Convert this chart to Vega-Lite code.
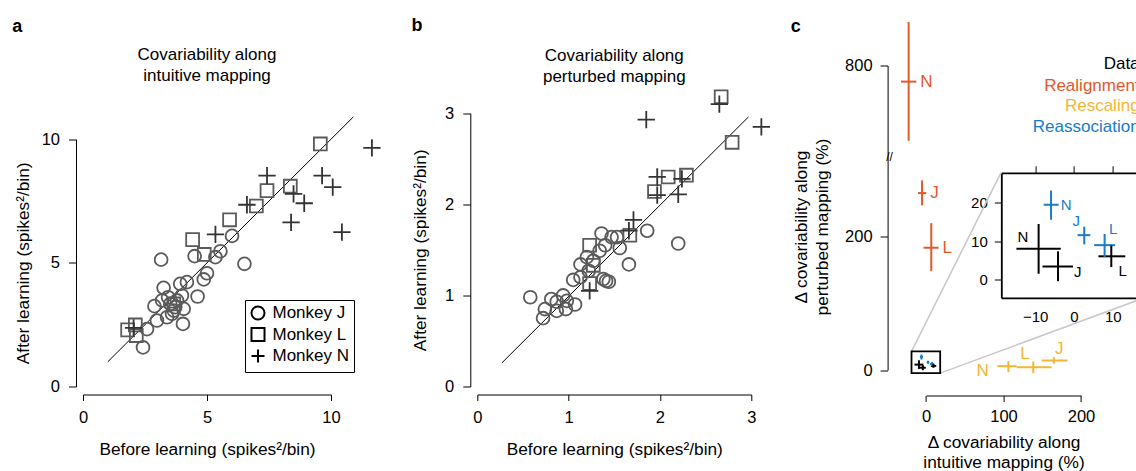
{
  "$schema": "https://vega.github.io/schema/vega-lite/v6.json",
  "padding": {"left": 12, "top": 16.5, "right": 0, "bottom": 0},
  "bounds": "flush",
  "spacing": 146.3,
  "config": {
    "view": {"stroke": null},
    "font": "Liberation Sans",
    "axis": {"domainColor": "black", "tickColor": "black", "labelColor": "black", "titleColor": "black", "labelFont": "Liberation Sans", "titleFont": "Liberation Sans", "labelFontSize": 16.5, "titleFontSize": 17.3, "titleFontWeight": "normal", "grid": false, "domainWidth": 1, "tickWidth": 1, "labelFlush": false, "labelOverlap": false},
    "legend": {"labelFont": "Liberation Sans"}
  },
  "resolve": {"scale": {"color": "independent", "shape": "independent", "size": "independent"}, "legend": {"color": "independent", "shape": "independent", "size": "independent"}},
  "datasets": {
    "intuitive": [
      {"monkey": "Monkey J", "before": 3.15, "after": 5.13},
      {"monkey": "Monkey J", "before": 2.42, "after": 1.58},
      {"monkey": "Monkey J", "before": 2.58, "after": 2.32},
      {"monkey": "Monkey J", "before": 2.98, "after": 2.67},
      {"monkey": "Monkey J", "before": 2.88, "after": 3.25},
      {"monkey": "Monkey J", "before": 3.25, "after": 3.99},
      {"monkey": "Monkey J", "before": 3.19, "after": 3.48},
      {"monkey": "Monkey J", "before": 3.39, "after": 2.80},
      {"monkey": "Monkey J", "before": 3.52, "after": 3.34},
      {"monkey": "Monkey J", "before": 3.66, "after": 3.07},
      {"monkey": "Monkey J", "before": 3.79, "after": 3.48},
      {"monkey": "Monkey J", "before": 3.92, "after": 4.15},
      {"monkey": "Monkey J", "before": 4.06, "after": 3.14},
      {"monkey": "Monkey J", "before": 4.03, "after": 2.53},
      {"monkey": "Monkey J", "before": 3.99, "after": 3.68},
      {"monkey": "Monkey J", "before": 4.19, "after": 4.22},
      {"monkey": "Monkey J", "before": 4.62, "after": 3.64},
      {"monkey": "Monkey J", "before": 4.50, "after": 5.27},
      {"monkey": "Monkey J", "before": 4.87, "after": 4.33},
      {"monkey": "Monkey J", "before": 5.00, "after": 4.58},
      {"monkey": "Monkey J", "before": 5.34, "after": 5.23},
      {"monkey": "Monkey J", "before": 5.54, "after": 5.47},
      {"monkey": "Monkey J", "before": 6.01, "after": 6.09},
      {"monkey": "Monkey J", "before": 6.51, "after": 4.96},
      {"monkey": "Monkey J", "before": 3.72, "after": 3.21},
      {"monkey": "Monkey J", "before": 3.59, "after": 2.94},
      {"monkey": "Monkey J", "before": 3.43, "after": 3.61},
      {"monkey": "Monkey L", "before": 1.80, "after": 2.29},
      {"monkey": "Monkey L", "before": 2.11, "after": 2.49},
      {"monkey": "Monkey L", "before": 2.15, "after": 2.06},
      {"monkey": "Monkey L", "before": 4.42, "after": 5.94},
      {"monkey": "Monkey L", "before": 4.89, "after": 5.34},
      {"monkey": "Monkey L", "before": 5.91, "after": 6.74},
      {"monkey": "Monkey L", "before": 6.99, "after": 7.30},
      {"monkey": "Monkey L", "before": 7.42, "after": 7.92},
      {"monkey": "Monkey L", "before": 8.36, "after": 8.10},
      {"monkey": "Monkey L", "before": 9.57, "after": 9.81},
      {"monkey": "Monkey L", "before": 3.66, "after": 3.34},
      {"monkey": "Monkey N", "before": 11.65, "after": 9.65},
      {"monkey": "Monkey N", "before": 7.42, "after": 8.53},
      {"monkey": "Monkey N", "before": 6.61, "after": 7.35},
      {"monkey": "Monkey N", "before": 5.34, "after": 6.15},
      {"monkey": "Monkey N", "before": 8.39, "after": 6.64},
      {"monkey": "Monkey N", "before": 8.49, "after": 7.79},
      {"monkey": "Monkey N", "before": 8.92, "after": 7.41},
      {"monkey": "Monkey N", "before": 9.64, "after": 8.53},
      {"monkey": "Monkey N", "before": 10.07, "after": 8.06},
      {"monkey": "Monkey N", "before": 10.44, "after": 6.24},
      {"monkey": "Monkey N", "before": 2.04, "after": 2.37}
    ],
    "perturbed": [
      {"monkey": "Monkey J", "before": 0.58, "after": 0.98},
      {"monkey": "Monkey J", "before": 0.72, "after": 0.75},
      {"monkey": "Monkey J", "before": 0.74, "after": 0.85},
      {"monkey": "Monkey J", "before": 0.81, "after": 0.96},
      {"monkey": "Monkey J", "before": 0.87, "after": 0.93},
      {"monkey": "Monkey J", "before": 0.87, "after": 0.83},
      {"monkey": "Monkey J", "before": 0.94, "after": 1.00},
      {"monkey": "Monkey J", "before": 0.97, "after": 0.85},
      {"monkey": "Monkey J", "before": 1.07, "after": 0.90},
      {"monkey": "Monkey J", "before": 0.98, "after": 0.94},
      {"monkey": "Monkey J", "before": 1.05, "after": 1.17},
      {"monkey": "Monkey J", "before": 1.13, "after": 1.20},
      {"monkey": "Monkey J", "before": 1.13, "after": 1.34},
      {"monkey": "Monkey J", "before": 1.20, "after": 1.42},
      {"monkey": "Monkey J", "before": 1.22, "after": 1.27},
      {"monkey": "Monkey J", "before": 1.27, "after": 1.38},
      {"monkey": "Monkey J", "before": 1.34, "after": 1.49},
      {"monkey": "Monkey J", "before": 1.36, "after": 1.68},
      {"monkey": "Monkey J", "before": 1.40, "after": 1.55},
      {"monkey": "Monkey J", "before": 1.38, "after": 1.18},
      {"monkey": "Monkey J", "before": 1.44, "after": 1.15},
      {"monkey": "Monkey J", "before": 1.47, "after": 1.64},
      {"monkey": "Monkey J", "before": 1.53, "after": 1.64},
      {"monkey": "Monkey J", "before": 1.56, "after": 1.52},
      {"monkey": "Monkey J", "before": 1.66, "after": 1.34},
      {"monkey": "Monkey J", "before": 1.86, "after": 1.71},
      {"monkey": "Monkey J", "before": 2.20, "after": 1.57},
      {"monkey": "Monkey J", "before": 1.41, "after": 1.16},
      {"monkey": "Monkey L", "before": 1.23, "after": 1.55},
      {"monkey": "Monkey L", "before": 1.23, "after": 1.13},
      {"monkey": "Monkey L", "before": 1.27, "after": 1.33},
      {"monkey": "Monkey L", "before": 1.67, "after": 1.66},
      {"monkey": "Monkey L", "before": 1.94, "after": 2.14},
      {"monkey": "Monkey L", "before": 2.09, "after": 2.30},
      {"monkey": "Monkey L", "before": 2.29, "after": 2.32},
      {"monkey": "Monkey L", "before": 2.79, "after": 2.68},
      {"monkey": "Monkey L", "before": 2.67, "after": 3.18},
      {"monkey": "Monkey N", "before": 1.23, "after": 1.05},
      {"monkey": "Monkey N", "before": 1.71, "after": 1.83},
      {"monkey": "Monkey N", "before": 1.66, "after": 1.71},
      {"monkey": "Monkey N", "before": 1.85, "after": 2.93},
      {"monkey": "Monkey N", "before": 1.97, "after": 2.30},
      {"monkey": "Monkey N", "before": 1.97, "after": 2.10},
      {"monkey": "Monkey N", "before": 2.20, "after": 2.11},
      {"monkey": "Monkey N", "before": 2.24, "after": 2.28},
      {"monkey": "Monkey N", "before": 2.65, "after": 3.10},
      {"monkey": "Monkey N", "before": 3.11, "after": 2.85}
    ],
    "bars": [
      {"set": "Realignment", "m": "N", "x": -22.4, "xlo": -32.2, "xhi": -12.5, "y": 776, "ylo": 688, "yhi": 864.7},
      {"set": "Realignment", "m": "J", "x": -5.1, "xlo": -10.3, "xhi": 0.4, "y": 264.3, "ylo": 245.9, "yhi": 283.3},
      {"set": "Realignment", "m": "L", "x": 6.8, "xlo": -3.1, "xhi": 16.2, "y": 182.7, "ylo": 147.7, "yhi": 219.4},
      {"set": "Rescaling", "m": "N", "x": 106.3, "xlo": 92.1, "xhi": 117, "y": 5.7, "ylo": -3.3, "yhi": 13.2},
      {"set": "Rescaling", "m": "L", "x": 138.4, "xlo": 117, "xhi": 162, "y": 4.2, "ylo": -4.8, "yhi": 12.7},
      {"set": "Rescaling", "m": "J", "x": 165, "xlo": 149.2, "xhi": 182.6, "y": 14.2, "ylo": 9.3, "yhi": 19.1},
      {"set": "Reassociation", "m": "N", "x": -5.9, "xlo": -7.8, "xhi": -3.95, "y": 19.5, "ylo": 15.6, "yhi": 23.2},
      {"set": "Reassociation", "m": "J", "x": 2.65, "xlo": 0.93, "xhi": 4.2, "y": 11.6, "ylo": 9.2, "yhi": 13.8},
      {"set": "Reassociation", "m": "L", "x": 7.88, "xlo": 5.2, "xhi": 10.6, "y": 9.0, "ylo": 5.9, "yhi": 11.9},
      {"set": "Data", "m": "N", "x": -9.1, "xlo": -14.8, "xhi": -3.4, "y": 8.05, "ylo": 1.56, "yhi": 14.5},
      {"set": "Data", "m": "J", "x": -4.1, "xlo": -8.1, "xhi": -0.26, "y": 3.45, "ylo": -0.36, "yhi": 7.4},
      {"set": "Data", "m": "L", "x": 9.6, "xlo": 6.3, "xhi": 13.2, "y": 6.1, "ylo": 3.3, "yhi": 8.9}
    ]
  },
  "hconcat": [
    {
      "width": 248,
      "height": 321,
      "layer": [
        {
          "data": {"values": [{}]},
          "mark": {"type": "rule", "color": "black", "strokeWidth": 1},
          "encoding": {
            "x": {"datum": 1, "type": "quantitative", "scale": {"domain": [0, 10], "nice": false, "zero": false},
              "axis": {"values": [0, 5, 10], "format": "d", "offset": 8, "tickSize": 6, "labelPadding": 9, "title": "Before learning (spikes²/bin)", "titlePadding": 14}},
            "y": {"datum": 1, "type": "quantitative", "scale": {"domain": [0, 10], "range": [321, 73.7], "nice": false, "zero": false},
              "axis": {"values": [0, 5, 10], "format": "d", "offset": 7, "tickSize": 7.5, "labelPadding": 9, "title": "After learning (spikes²/bin)", "titleX": -44}},
            "x2": {"datum": 10.9},
            "y2": {"datum": 10.9}
          }
        },
        {
          "data": {"name": "intuitive"},
          "mark": {"type": "point", "filled": false, "strokeWidth": 1.8, "opacity": 1},
          "encoding": {
            "x": {"field": "before", "type": "quantitative"},
            "y": {"field": "after", "type": "quantitative"},
            "shape": {"field": "monkey", "type": "nominal",
              "scale": {"domain": ["Monkey J", "Monkey L", "Monkey N"], "range": ["circle", "square", "M-1,0L1,0M0,-1L0,1"]},
              "legend": {"orient": "none", "legendX": 162, "legendY": 234.5, "title": null, "strokeColor": "black", "padding": 4.5, "rowPadding": -1.5, "labelFontSize": 17, "labelColor": "black", "symbolSize": 170, "symbolStrokeWidth": 2, "symbolStrokeColor": "black", "labelOffset": 6}},
            "color": {"condition": {"test": "datum.monkey == 'Monkey N'", "value": "#333333"}, "value": "#5a5a5a"},
            "size": {"condition": {"test": "datum.monkey == 'Monkey N'", "value": 300}, "value": 165}
          }
        },
        {
          "data": {"values": [{}]},
          "mark": {"type": "text", "text": "a", "fontSize": 18, "fontWeight": "bold", "align": "center", "baseline": "middle", "color": "black"},
          "encoding": {"x": {"datum": -2.65, "type": "quantitative"}, "y": {"datum": 14.53, "type": "quantitative"}}
        },
        {
          "data": {"values": [{}]},
          "mark": {"type": "text", "text": ["Covariability along", "intuitive mapping"], "fontSize": 17, "lineHeight": 21, "align": "center", "baseline": "middle", "color": "black"},
          "encoding": {"x": {"datum": 5, "type": "quantitative"}, "y": {"datum": 13.385, "type": "quantitative"}}
        }
      ]
    },
    {
      "width": 274,
      "height": 321,
      "layer": [
        {
          "data": {"values": [{}]},
          "mark": {"type": "rule", "color": "black", "strokeWidth": 1},
          "encoding": {
            "x": {"datum": 0.27, "type": "quantitative", "scale": {"domain": [0, 3], "nice": false, "zero": false},
              "axis": {"values": [0, 1, 2, 3], "format": "d", "offset": 8, "tickSize": 6, "labelPadding": 9, "title": "Before learning (spikes²/bin)", "titlePadding": 14}},
            "y": {"datum": 0.26, "type": "quantitative", "scale": {"domain": [0, 3], "range": [321, 47.7], "nice": false, "zero": false},
              "axis": {"values": [0, 1, 2, 3], "format": "d", "offset": 7, "tickSize": 7.5, "labelPadding": 9, "title": "After learning (spikes²/bin)", "titleX": -40.7}},
            "x2": {"datum": 2.97},
            "y2": {"datum": 2.96}
          }
        },
        {
          "data": {"name": "perturbed"},
          "mark": {"type": "point", "filled": false, "strokeWidth": 1.8, "opacity": 1},
          "encoding": {
            "x": {"field": "before", "type": "quantitative"},
            "y": {"field": "after", "type": "quantitative"},
            "shape": {"field": "monkey", "type": "nominal",
              "scale": {"domain": ["Monkey J", "Monkey L", "Monkey N"], "range": ["circle", "square", "M-1,0L1,0M0,-1L0,1"]},
              "legend": null},
            "color": {"condition": {"test": "datum.monkey == 'Monkey N'", "value": "#333333"}, "value": "#5a5a5a"},
            "size": {"condition": {"test": "datum.monkey == 'Monkey N'", "value": 300}, "value": 165}
          }
        },
        {
          "data": {"values": [{}]},
          "mark": {"type": "text", "text": "b", "fontSize": 18, "fontWeight": "bold", "align": "center", "baseline": "middle", "color": "black"},
          "encoding": {"x": {"datum": -0.66, "type": "quantitative"}, "y": {"datum": 3.957, "type": "quantitative"}}
        },
        {
          "data": {"values": [{}]},
          "mark": {"type": "text", "text": ["Covariability along", "perturbed mapping"], "fontSize": 17, "lineHeight": 21, "align": "center", "baseline": "middle", "color": "black"},
          "encoding": {"x": {"datum": 1.5, "type": "quantitative"}, "y": {"datum": 3.633, "type": "quantitative"}}
        }
      ]
    },
    {
      "width": 240,
      "height": 321,
      "layer": [
        {
          "layer": [
            {
              "data": {"values": [{}]},
              "mark": {"type": "rule", "color": "#c8c8c8", "strokeWidth": 1.5},
              "encoding": {"x": {"datum": -18.7, "type": "quantitative"}, "y": {"datum": 27.8, "type": "quantitative"}, "x2": {"datum": 96.8}, "y2": {"datum": 294.8}}
            },
            {
              "data": {"values": [{}]},
              "mark": {"type": "rule", "color": "#c8c8c8", "strokeWidth": 1.5},
              "encoding": {"x": {"datum": 18.3, "type": "quantitative"}, "y": {"datum": -4.7, "type": "quantitative"}, "x2": {"datum": 281.8}, "y2": {"datum": 107.9}}
            },
            {
              "data": {"values": [{}]},
              "mark": {"type": "rect", "filled": false, "color": "black", "strokeWidth": 1.8},
              "encoding": {"x": {"datum": -18.7, "type": "quantitative"}, "x2": {"datum": 18.3}, "y": {"datum": -4.7, "type": "quantitative"}, "y2": {"datum": 27.8}}
            },
            {
              "data": {"name": "bars"},
              "mark": {"type": "rule", "strokeWidth": 2},
              "encoding": {
                "x": {"field": "xlo", "type": "quantitative", "scale": {"domain": [0, 200], "range": [28.4, 183.4], "nice": false, "zero": false},
                  "axis": {"values": [0, 100, 200], "format": "d", "offset": 9, "tickSize": 6, "labelPadding": 7, "title": ["Δ covariability along", "intuitive mapping (%)"], "titlePadding": 8, "titleLineHeight": 20.7}},
                "x2": {"field": "xhi"},
                "y": {"field": "y", "type": "quantitative", "scale": {"domain": [0, 319, 666, 800], "range": [304.5, 91, 90, 0], "nice": false, "zero": false},
                  "axis": {"values": [0, 200, 800], "format": "d", "offset": 10, "tickSize": 7.5, "labelPadding": 8, "title": ["Δ covariability along", "perturbed mapping (%)"], "titleX": -77.5, "titleY": 161, "titleLineHeight": 21.5}},
                "color": {"field": "set", "type": "nominal", "scale": {"domain": ["Data", "Realignment", "Rescaling", "Reassociation"], "range": ["#000000", "#E2582A", "#F2B634", "#1A7BC6"]}, "legend": null}
              }
            },
            {
              "data": {"name": "bars"},
              "mark": {"type": "rule", "strokeWidth": 2},
              "encoding": {
                "x": {"field": "x", "type": "quantitative"},
                "y": {"field": "ylo", "type": "quantitative"},
                "y2": {"field": "yhi"},
                "color": {"field": "set", "type": "nominal"}
              }
            },
            {
              "data": {"name": "bars"},
              "transform": [{"filter": "datum.set == 'Realignment'"}],
              "mark": {"type": "text", "fontSize": 17, "align": "left", "baseline": "middle", "dx": 4},
              "encoding": {"x": {"field": "xhi", "type": "quantitative"}, "y": {"field": "y", "type": "quantitative"}, "text": {"field": "m"}, "color": {"field": "set", "type": "nominal"}}
            },
            {
              "data": {"name": "bars"},
              "transform": [{"filter": "datum.set == 'Rescaling' && datum.m == 'N'"}],
              "mark": {"type": "text", "fontSize": 17, "align": "right", "baseline": "middle", "dx": -8.5, "dy": 5},
              "encoding": {"x": {"field": "xlo", "type": "quantitative"}, "y": {"field": "y", "type": "quantitative"}, "text": {"field": "m"}, "color": {"field": "set", "type": "nominal"}}
            },
            {
              "data": {"name": "bars"},
              "transform": [{"filter": "datum.set == 'Rescaling' && datum.m == 'L'"}],
              "mark": {"type": "text", "fontSize": 17, "align": "center", "baseline": "middle", "dx": -8.3, "dy": -13.4},
              "encoding": {"x": {"field": "x", "type": "quantitative"}, "y": {"field": "y", "type": "quantitative"}, "text": {"field": "m"}, "color": {"field": "set", "type": "nominal"}}
            },
            {
              "data": {"name": "bars"},
              "transform": [{"filter": "datum.set == 'Rescaling' && datum.m == 'J'"}],
              "mark": {"type": "text", "fontSize": 17, "align": "center", "baseline": "middle", "dx": 5.3, "dy": -11.7},
              "encoding": {"x": {"field": "x", "type": "quantitative"}, "y": {"field": "y", "type": "quantitative"}, "text": {"field": "m"}, "color": {"field": "set", "type": "nominal"}}
            },
            {
              "data": {"values": [{}]},
              "mark": {"type": "text", "text": "Data", "fontSize": 17, "align": "right", "baseline": "middle", "color": "#000000"},
              "encoding": {"x": {"datum": 275.6, "type": "quantitative"}, "y": {"datum": 801.5, "type": "quantitative"}}
            },
            {
              "data": {"values": [{}]},
              "mark": {"type": "text", "text": "Realignment", "fontSize": 17, "align": "right", "baseline": "middle", "color": "#E2582A"},
              "encoding": {"x": {"datum": 275.6, "type": "quantitative"}, "y": {"datum": 770.1, "type": "quantitative"}}
            },
            {
              "data": {"values": [{}]},
              "mark": {"type": "text", "text": "Rescaling", "fontSize": 17, "align": "right", "baseline": "middle", "color": "#F2B634"},
              "encoding": {"x": {"datum": 275.6, "type": "quantitative"}, "y": {"datum": 740.2, "type": "quantitative"}}
            },
            {
              "data": {"values": [{}]},
              "mark": {"type": "text", "text": "Reassociation", "fontSize": 17, "align": "right", "baseline": "middle", "color": "#1A7BC6"},
              "encoding": {"x": {"datum": 275.6, "type": "quantitative"}, "y": {"datum": 708.8, "type": "quantitative"}}
            },
            {
              "data": {"values": [{}]},
              "mark": {"type": "text", "text": "c", "fontSize": 18, "fontWeight": "bold", "align": "center", "baseline": "middle", "color": "black"},
              "encoding": {"x": {"datum": -168.1, "type": "quantitative"}, "y": {"datum": 857.5, "type": "quantitative"}}
            },
            {
              "data": {"values": [{}]},
              "mark": {"type": "text", "text": "//", "fontSize": 12, "align": "center", "baseline": "middle", "color": "black"},
              "encoding": {"x": {"datum": -47, "type": "quantitative"}, "y": {"datum": 319, "type": "quantitative"}}
            }
          ]
        },
        {
          "data": {"name": "bars"},
          "transform": [{"filter": "datum.set == 'Data' || datum.set == 'Reassociation'"}],
          "layer": [
            {
              "mark": {"type": "rule", "strokeWidth": 2},
              "encoding": {
                "x": {"field": "xlo", "type": "quantitative", "scale": {"domain": [-18.7, 18.3], "range": [103.7, 247.5], "nice": false, "zero": false},
                  "axis": {"orient": "top", "values": [-10, 0, 10], "offset": -107.3, "labels": false, "tickSize": 7, "title": null, "domainWidth": 1.8}},
                "x2": {"field": "xhi"},
                "y": {"field": "y", "type": "quantitative", "scale": {"domain": [-4.68, 27.8], "range": [232.3, 107.3], "nice": false, "zero": false},
                  "axis": {"orient": "left", "values": [0, 10, 20], "format": "d", "offset": -103.7, "tickSize": 7, "labelPadding": 7, "labelFontSize": 15, "title": null, "domainWidth": 1.8}},
                "color": {"field": "set", "type": "nominal"}
              }
            },
            {
              "mark": {"type": "rule", "strokeWidth": 2},
              "encoding": {
                "x": {"field": "x", "type": "quantitative"},
                "y": {"field": "ylo", "type": "quantitative"},
                "y2": {"field": "yhi"},
                "color": {"field": "set", "type": "nominal"}
              }
            }
          ]
        },
        {
          "data": {"name": "bars"},
          "layer": [
            {
              "transform": [{"filter": "datum.set == 'Reassociation' && datum.m == 'N'"}],
              "mark": {"type": "text", "fontSize": 15, "align": "left", "baseline": "middle", "dx": 2},
              "encoding": {
                "x": {"field": "xhi", "type": "quantitative", "scale": {"domain": [-18.7, 18.3], "range": [103.7, 247.5], "nice": false, "zero": false},
                  "axis": {"orient": "bottom", "values": [-10, 0, 10], "format": "d", "offset": -88.7, "ticks": false, "tickSize": 0, "labelPadding": 12, "labelFontSize": 15, "title": null, "domainWidth": 1.8}},
                "y": {"field": "y", "type": "quantitative", "scale": {"domain": [-4.68, 27.8], "range": [232.3, 107.3], "nice": false, "zero": false}, "axis": null},
                "text": {"field": "m"},
                "color": {"field": "set", "type": "nominal"}
              }
            },
            {
              "transform": [{"filter": "datum.set == 'Reassociation' && datum.m == 'J'"}],
              "mark": {"type": "text", "fontSize": 15, "align": "center", "baseline": "middle", "dx": -8, "dy": -14},
              "encoding": {"x": {"field": "x", "type": "quantitative"}, "y": {"field": "y", "type": "quantitative"}, "text": {"field": "m"}, "color": {"field": "set", "type": "nominal"}}
            },
            {
              "transform": [{"filter": "datum.set == 'Reassociation' && datum.m == 'L'"}],
              "mark": {"type": "text", "fontSize": 15, "align": "center", "baseline": "middle", "dx": 8.5, "dy": -16.5},
              "encoding": {"x": {"field": "x", "type": "quantitative"}, "y": {"field": "y", "type": "quantitative"}, "text": {"field": "m"}, "color": {"field": "set", "type": "nominal"}}
            },
            {
              "transform": [{"filter": "datum.set == 'Data' && datum.m == 'N'"}],
              "mark": {"type": "text", "fontSize": 15, "align": "center", "baseline": "middle", "dx": 6.5, "dy": -11.5},
              "encoding": {"x": {"field": "xlo", "type": "quantitative"}, "y": {"field": "y", "type": "quantitative"}, "text": {"field": "m"}, "color": {"field": "set", "type": "nominal"}}
            },
            {
              "transform": [{"filter": "datum.set == 'Data' && datum.m == 'J'"}],
              "mark": {"type": "text", "fontSize": 15, "align": "left", "baseline": "middle", "dx": 1, "dy": 5},
              "encoding": {"x": {"field": "xhi", "type": "quantitative"}, "y": {"field": "y", "type": "quantitative"}, "text": {"field": "m"}, "color": {"field": "set", "type": "nominal"}}
            },
            {
              "transform": [{"filter": "datum.set == 'Data' && datum.m == 'L'"}],
              "mark": {"type": "text", "fontSize": 15, "align": "center", "baseline": "middle", "dx": 11.5, "dy": 15},
              "encoding": {"x": {"field": "x", "type": "quantitative"}, "y": {"field": "y", "type": "quantitative"}, "text": {"field": "m"}, "color": {"field": "set", "type": "nominal"}}
            }
          ]
        }
      ],
      "resolve": {"scale": {"x": "independent", "y": "independent"}, "axis": {"x": "independent", "y": "independent"}}
    }
  ]
}
